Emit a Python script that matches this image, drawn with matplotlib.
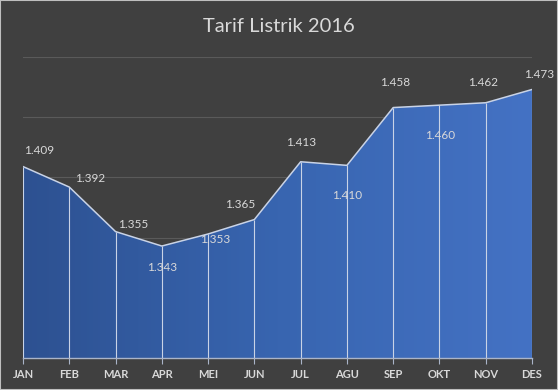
import numpy as np
import matplotlib.pyplot as plt
from matplotlib.colors import LinearSegmentedColormap
from matplotlib.patches import Rectangle

months = ['JAN', 'FEB', 'MAR', 'APR', 'MEI', 'JUN', 'JUL', 'AGU', 'SEP', 'OKT', 'NOV', 'DES']
tarif = [1.409, 1.392, 1.355, 1.343, 1.353, 1.365, 1.413, 1.410, 1.458, 1.460, 1.462, 1.473]
labels = ['1.409', '1.392', '1.355', '1.343', '1.353', '1.365', '1.413', '1.410', '1.458', '1.460', '1.462', '1.473']

bg = '#404040'
txt = '#d9d9d9'
line_col = '#c9d3e6'

plt.rcParams['font.family'] = ['Lato', 'DejaVu Sans']

fig = plt.figure(figsize=(5.58, 3.90), dpi=100, facecolor=bg)
ax = fig.add_axes([23 / 558, 1 - 358 / 390, 509 / 558, 301 / 390])
ax.set_facecolor(bg)

x = np.arange(len(months))
ax.set_xlim(0, len(months) - 1)
ax.set_ylim(1.25, 1.50)

# gridlines behind the area
for g in [1.30, 1.35, 1.40, 1.45, 1.50]:
    ax.axhline(g, color='#5a5a5a', lw=0.8, zorder=0)

# gradient fill clipped to the area
poly = ax.fill_between(x, 1.25, tarif, color='none', lw=0, zorder=1)
cmap = LinearSegmentedColormap.from_list('g', ['#2d5191', '#3865b0', '#4472c4'])
grad = np.linspace(0, 1, 256).reshape(1, -1)
im = ax.imshow(grad, cmap=cmap, aspect='auto', extent=[0, len(months) - 1, 1.25, 1.50],
               origin='lower', zorder=1, interpolation='bicubic')
im.set_clip_path(poly.get_paths()[0], transform=ax.transData)

ax.plot(x, tarif, color=line_col, lw=1.1, zorder=3)
ax.vlines(x, 1.25, tarif, color=line_col, lw=0.8, zorder=2)

# data labels (offsets in pixels)
offsets = [(16, 16), (21, 9), (18, 7), (0, -21), (7, -6), (-14, 15),
           (0, 19), (0, -30), (2, 25), (1, -30), (-3, 20), (7, 15)]
for xi, yi, lab, (dx, dy) in zip(x, tarif, labels, offsets):
    ax.annotate(lab, (xi, yi), xytext=(dx, dy), textcoords='offset pixels',
                ha='center', va='center', color=txt, fontsize=8.5, zorder=4)

ax.set_xticks(x)
ax.set_xticklabels(months, fontweight='bold', fontsize=8, color=txt)
ax.tick_params(axis='x', length=4, color='#aab4c8', width=0.8, pad=4)
ax.set_yticks([])
for s in ['left', 'right', 'top']:
    ax.spines[s].set_visible(False)
ax.spines['bottom'].set_color('#aab4c8')
ax.spines['bottom'].set_linewidth(1)
ax.spines['bottom'].set_zorder(5)

fig.text(0.5, 1 - 27 / 390, 'Tarif Listrik 2016', ha='center', va='center',
         color=txt, fontsize=14.5)

fig.patches.append(Rectangle((0, 0), 1, 1, transform=fig.transFigure, fill=False,
                             edgecolor='#bfbfbf', lw=1.5))

fig.savefig('out.png', dpi=100, facecolor=bg)
